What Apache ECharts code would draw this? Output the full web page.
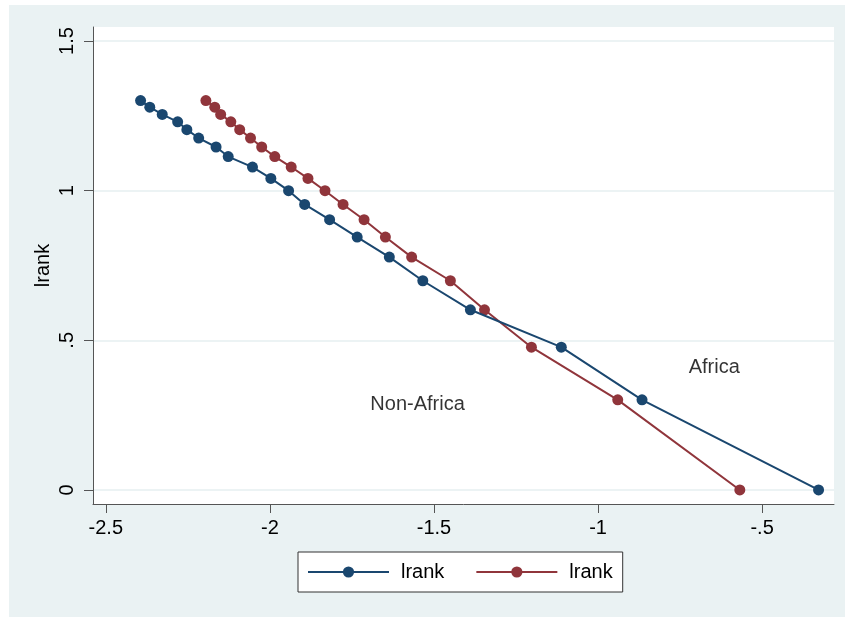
<!DOCTYPE html>
<html>
<head>
<meta charset="utf-8">
<script src="https://cdn.jsdelivr.net/npm/echarts@6/dist/echarts.min.js"></script>
<style>
  html, body { margin: 0; padding: 0; background: #ffffff; }
  #bg { position: absolute; left: 9px; top: 5px; width: 836px; height: 612px; background: #EAF2F3; }
  #chart { position: absolute; left: 0; top: 0; width: 845px; height: 617px; }
</style>
</head>
<body>
<div id="bg"></div>
<div id="chart"></div>
<script>
// lrank values (y) shared by both series
const lrankA = [1.301, 1.279, 1.255, 1.230, 1.204, 1.176, 1.146, 1.114, 1.079, 1.041, 1.000, 0.954, 0.903, 0.845, 0.778, 0.699, 0.602, 0.477, 0.301, 0.000];
const xA = [-2.394, -2.366, -2.328, -2.281, -2.253, -2.217, -2.164, -2.127, -2.053, -1.997, -1.943, -1.894, -1.818, -1.734, -1.636, -1.534, -1.389, -1.112, -0.866, -0.328];
const lrankB = [1.301, 1.279, 1.255, 1.230, 1.204, 1.176, 1.146, 1.114, 1.079, 1.041, 1.000, 0.954, 0.903, 0.845, 0.778, 0.699, 0.602, 0.477, 0.301, 0.000];
const xB = [-2.195, -2.168, -2.150, -2.119, -2.092, -2.059, -2.025, -1.985, -1.935, -1.884, -1.832, -1.777, -1.713, -1.648, -1.568, -1.450, -1.346, -1.203, -0.940, -0.568];

const xTicks = [-2.5, -2, -1.5, -1, -0.5];
const xTickLabels = ['-2.5', '-2', '-1.5', '-1', '-.5'];
const yTicks = [0, 0.5, 1, 1.5];
const yTickLabels = ['0', '.5', '1', '1.5'];
const legendLabel = 'lrank';
const annotations = [
  { text: 'Non-Africa', x: -1.55, y: 0.287 },
  { text: 'Africa', x: -0.646, y: 0.408 }
];

const BLUE = '#1A476F';
const RED = '#90353B';
const FONT = 'Liberation Sans, Arial, sans-serif';

function pairs(xs, ys) { return xs.map((x, i) => [x, ys[i]]); }

const chart = echarts.init(document.getElementById('chart'), null, { renderer: 'canvas' });
chart.setOption({
  animation: false,
  backgroundColor: 'transparent',
  textStyle: { fontFamily: FONT },
  grid: {
    left: 93, top: 27, right: 11, bottom: 113,
    show: true, backgroundColor: '#ffffff', borderWidth: 0,
    containLabel: false, outerBoundsMode: 'none'
  },
  xAxis: {
    type: 'value', min: -2.539, max: -0.281,
    axisLine: { show: true, onZero: false, lineStyle: { color: '#555555', width: 1 } },
    axisTick: { show: true, length: 9, lineStyle: { color: '#555555' }, customValues: xTicks },
    axisLabel: {
      customValues: xTicks, margin: 14, color: '#000', fontSize: 20, fontFamily: FONT,
      formatter: v => xTickLabels[xTicks.indexOf(v)] ?? ''
    },
    splitLine: { show: false }
  },
  yAxis: {
    type: 'value', min: -0.047, max: 1.547,
    name: 'lrank', nameLocation: 'middle', nameRotate: 90, nameGap: 40, nameMoveOverlap: false,
    nameTextStyle: { color: '#000', fontSize: 20, fontFamily: FONT },
    axisLine: { show: true, onZero: false, lineStyle: { color: '#555555', width: 1 } },
    axisTick: { show: true, length: 9, lineStyle: { color: '#555555' }, customValues: yTicks },
    axisLabel: {
      customValues: yTicks, rotate: 90, margin: 16, color: '#000', fontSize: 20, fontFamily: FONT,
      formatter: v => yTickLabels[yTicks.indexOf(v)] ?? ''
    },
    splitLine: { show: true, lineStyle: { color: '#E6EFF1', width: 1.5 } }
  },
  legend: {
    left: 298, top: 552,
    orient: 'horizontal',
    data: ['lrank_a', 'lrank_b'],
    formatter: () => legendLabel,
    itemWidth: 81, itemHeight: 14, itemGap: 31,
    padding: [10, 10, 10, 9],
    backgroundColor: '#ffffff', borderColor: '#333333', borderWidth: 1,
    lineStyle: { width: 2 },
    textStyle: { color: '#000', fontSize: 20, fontFamily: FONT, padding: [0, 0, 0, 7] }
  },
  series: [
    {
      name: 'lrank_a', type: 'line', data: pairs(xA, lrankA),
      symbol: 'circle', symbolSize: 11, showSymbol: true,
      lineStyle: { color: BLUE, width: 2 }, itemStyle: { color: BLUE, borderWidth: 0 },
      z: 3
    },
    {
      name: 'lrank_b', type: 'line', data: pairs(xB, lrankB),
      symbol: 'circle', symbolSize: 11, showSymbol: true,
      lineStyle: { color: RED, width: 2 }, itemStyle: { color: RED, borderWidth: 0 },
      z: 2
    },
    {
      name: 'annotations', type: 'scatter', data: annotations.map(a => ({ value: [a.x, a.y], name: a.text })),
      symbolSize: 0, silent: true,
      label: { show: true, position: 'inside', formatter: p => p.name, color: '#000', fontSize: 20, fontFamily: FONT },
      z: 4
    }
  ]
});
</script>
</body>
</html>
